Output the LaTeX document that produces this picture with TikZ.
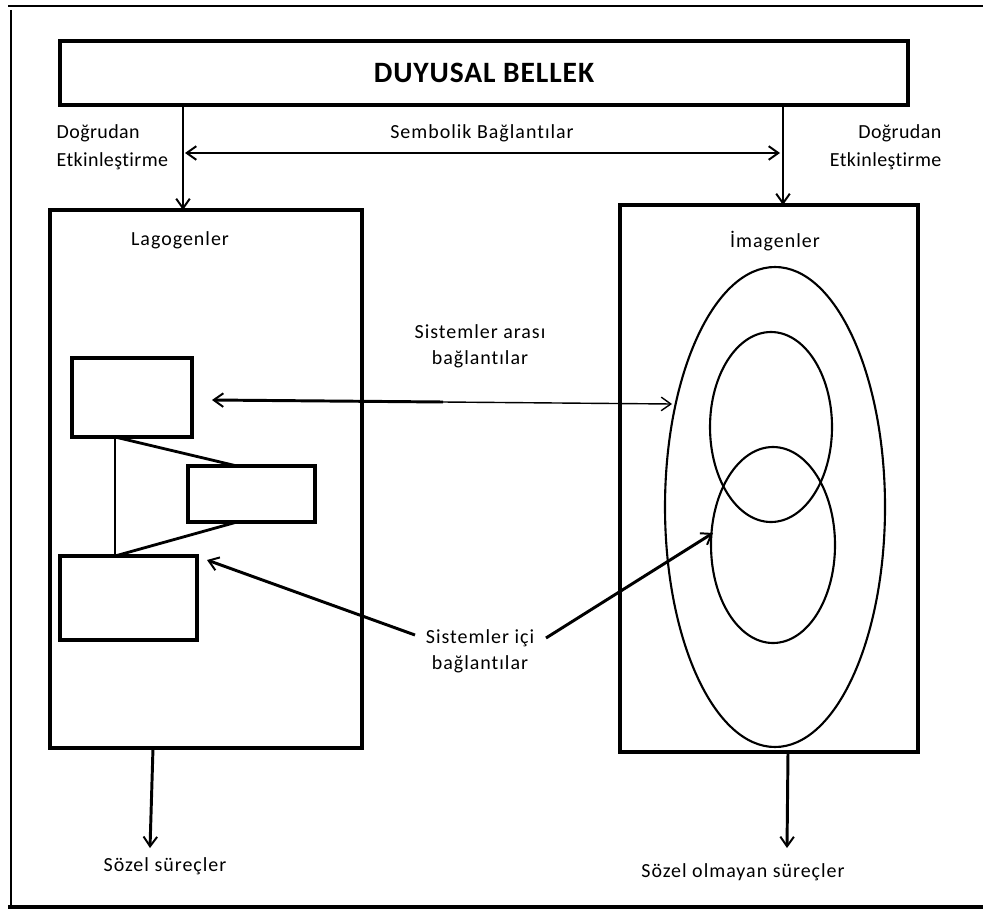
\documentclass[tikz,border=0pt]{standalone}
\usepackage{fontspec}
\setmainfont{Carlito}[Ligatures=NoCommon]
\usetikzlibrary{arrows.meta, shapes.geometric}

\begin{document}
\begin{tikzpicture}[x=0.025cm, y=-0.025cm,
    box/.style={draw, line width=2.2pt, inner sep=0pt},
    arr/.style={-{Straight Barb[length=2.4mm, width=3.4mm, line width=1.4pt]}, line width=2.1pt},
    darr/.style={{Straight Barb[length=2.4mm, width=3.4mm, line width=1.4pt]}-{Straight Barb[length=2.4mm, width=3.4mm, line width=1.4pt]}, line width=2.1pt},
    lbl/.style={font=\fontsize{14.2}{18.5}\selectfont\addfontfeature{LetterSpace=5}, align=center, inner sep=1pt},
    side/.style={font=\fontsize{14.2}{20}\selectfont\addfontfeature{LetterSpace=2}, inner sep=1pt},
    ring/.style={draw, line width=1.5pt}
]
\useasboundingbox (0,0) rectangle (983,912);
% Frame
\draw[line width=2pt] (8,6) -- (983,6);
\draw[line width=1.4pt] (11,10) -- (11,907);
\draw[line width=3pt] (8,907) -- (983,907);
% Sensory memory
\draw[line width=2.2pt] (60,41) rectangle (908,105);
\node[inner sep=0pt] (duy) at (484,73)
    {\fontsize{21}{24}\selectfont\bfseries\addfontfeature{LetterSpace=3}DUYUSAL BELLEK};
% The two systems
\draw[line width=2.2pt] (50,210) rectangle (362,748);
\coordinate (lagtop) at (183,210);
\coordinate (lagbot) at (153,748);
\draw[line width=2.2pt] (620,205) rectangle (918,752);
\coordinate (imgtop) at (783,205);
\coordinate (imgbot) at (788,752);
\node[lbl] (lag) at (180,240) {Lagogenler};
\node[lbl] (img) at (775,241) {İmagenler};
% Direct activation
\coordinate (dtopl) at (183,105);
\coordinate (dtopr) at (783,105);
\draw[arr] (dtopl) -- (lagtop);
\draw[arr] (dtopr) -- (imgtop);
\node[side, align=left, anchor=west] (dogl) at (55,147) {Doğrudan\\Etkinleştirme};
\node[side, align=right, anchor=east] (dogr) at (943,147) {Doğrudan\\Etkinleştirme};
% Symbolic links
\coordinate (syml) at (185,153);
\coordinate (symr) at (780,153);
\draw[darr] (syml) -- (symr);
\node[lbl] (sym) at (482,133) {Sembolik Bağlantılar};
% Logogen units
\draw[box] (72,358) rectangle (192,437);
\draw[box] (188,466) rectangle (315,522);
\draw[box] (60,556) rectangle (197,640);
\coordinate (ua) at (115,437);
\coordinate (ub) at (115,556);
\coordinate (uc) at (237,466);
\coordinate (ud) at (237,522);
\draw[line width=1.3pt] (ua) -- (ub);
\draw[line width=2pt] (ua) -- (uc);
\draw[line width=2pt] (ub) -- (ud);
% Imagen units
\node[ring, ellipse, minimum width=220*0.025cm, minimum height=480*0.025cm] (outer) at (775,507) {};
\node[ring, ellipse, minimum width=122*0.025cm, minimum height=190*0.025cm] (upper) at (771,427) {};
\node[ring, ellipse, minimum width=124*0.025cm, minimum height=196*0.025cm] (lower) at (773,545) {};
% Links between systems
\coordinate (bl) at (212,400);
\coordinate (bm) at (443,402);
\coordinate (br) at (672,404);
\draw[line width=2.1pt, {Straight Barb[length=2.4mm, width=3.4mm, line width=1.4pt]}-] (bl) -- (bm);
\draw[line width=1pt, -{Straight Barb[length=2.4mm, width=3.4mm, line width=1pt]}] (bm) -- (br);
\node[lbl] (arasi) at (480,346) {Sistemler arası\\bağlantılar};
% Links within systems
\node[lbl] (ici) at (480,651) {Sistemler içi\\bağlantılar};
\coordinate (il) at (415,635);
\coordinate (ir) at (546,638);
\draw[arr] (il) -- (207,560);
\draw[arr] (ir) -- (713,533);
% Outputs
\draw[arr] (lagbot) -- (150,848);
\draw[arr] (imgbot) -- (787,848);
\node[lbl] (sozel) at (165,866) {Sözel süreçler};
\node[lbl] (olmayan) at (743,872) {Sözel olmayan süreçler};
\end{tikzpicture}
\end{document}
